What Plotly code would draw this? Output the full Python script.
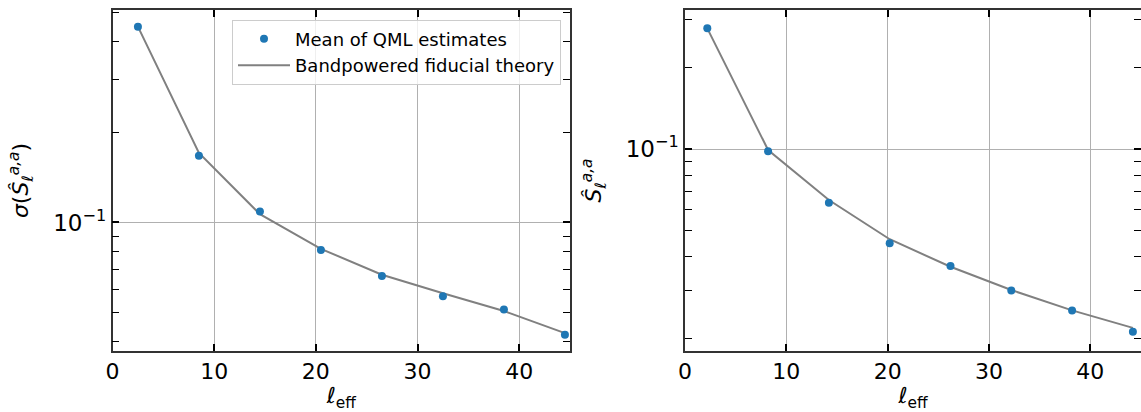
import plotly.graph_objects as go

# ---- data ----
ell_left = [2.5, 8.5, 14.5, 20.5, 26.5, 32.5, 38.5, 44.5]
qml_sigma = [0.449, 0.1668, 0.1088, 0.0810, 0.0664, 0.0568, 0.0513, 0.0423]
theory_sigma = [0.449, 0.1706, 0.1066, 0.0817, 0.0670, 0.0581, 0.0507, 0.0428]

ell_right = [2.2, 8.2, 14.2, 20.2, 26.2, 32.2, 38.2, 44.2]
qml_S = [0.279, 0.0981, 0.0634, 0.0449, 0.0370, 0.0301, 0.0254, 0.0212]
theory_S = [0.279, 0.0992, 0.0649, 0.0465, 0.0368, 0.0302, 0.0254, 0.0219]

x_ticks = [0, 10, 20, 30, 40]
y_major = [0.1]
y_major_text = ["10<sup>−1</sup>"]
minor_left = [0.04, 0.05, 0.06, 0.07, 0.08, 0.09, 0.2, 0.3, 0.4, 0.5]
minor_right = [0.02, 0.03, 0.04, 0.05, 0.06, 0.07, 0.08, 0.09, 0.2, 0.3]

W, H = 1141, 412
BLUE = "#1f77b4"
GRAY = "#808080"
FONT = "DejaVu Sans"

fig = go.Figure()
fig.add_trace(go.Scatter(x=ell_left, y=theory_sigma, mode="lines",
                         line=dict(color=GRAY, width=2),
                         name="Bandpowered fiducial theory", xaxis="x", yaxis="y"))
fig.add_trace(go.Scatter(x=ell_left, y=qml_sigma, mode="markers",
                         marker=dict(color=BLUE, size=8),
                         name="Mean of QML estimates", xaxis="x", yaxis="y"))
fig.add_trace(go.Scatter(x=ell_right, y=theory_S, mode="lines",
                         line=dict(color=GRAY, width=2), showlegend=False,
                         xaxis="x2", yaxis="y2"))
fig.add_trace(go.Scatter(x=ell_right, y=qml_S, mode="markers",
                         marker=dict(color=BLUE, size=8), showlegend=False,
                         xaxis="x2", yaxis="y2"))

def xax(domain, anchor):
    return dict(domain=domain, anchor=anchor, range=[0, 45], automargin=False,
                tickvals=x_ticks, ticks="inside", ticklen=7, tickwidth=1.5,
                tickcolor="black", showline=True, linecolor="#333333", linewidth=1.5,
                mirror="ticks", showgrid=True, gridcolor="#b0b0b0", gridwidth=1,
                zeroline=False, tickfont=dict(family=FONT, size=22, color="black"),
                title=dict(text="<i>ℓ</i><sub>eff</sub>",
                           font=dict(family=FONT, size=22, color="black"), standoff=2))

def yax(anchor, rng, minor_vals, title, standoff):
    return dict(domain=[0, 1], anchor=anchor, type="log", range=rng, automargin=False,
                tickvals=y_major, ticktext=y_major_text, ticks="inside", ticklen=7,
                tickwidth=1.5, tickcolor="black", showline=True, linecolor="#333333",
                linewidth=1.5, mirror="ticks", showgrid=True, gridcolor="#b0b0b0",
                gridwidth=1, zeroline=False,
                tickfont=dict(family=FONT, size=23, color="black"),
                minor=dict(tickvals=minor_vals, ticks="inside", ticklen=7,
                           tickwidth=1.2, tickcolor="black", showgrid=False),
                title=dict(text=title, font=dict(family=FONT, size=22, color="black"),
                           standoff=standoff))

fig.update_layout(
    width=W, height=H,
    margin=dict(l=0, r=0, t=10, b=61),
    paper_bgcolor="white", plot_bgcolor="white",
    xaxis=xax([112.5 / W, 570 / W], "y"),
    yaxis=yax("x", [-1.428, -0.2923], minor_left,
              "<i>σ</i>(<i>Ŝ</i><sub><i>ℓ</i></sub><sup><i>a,a</i></sup>)", 18),
    xaxis2=xax([685 / W, 1.0], "y2"),
    yaxis2=yax("x2", [-1.745, -0.4867], minor_right,
               "<i>Ŝ</i><sub><i>ℓ</i></sub><sup><i>a,a</i></sup>", 18),
    legend=dict(x=561 / W, xanchor="right", y=0.972, yanchor="top",
                bgcolor="rgba(255,255,255,0.8)", bordercolor="#cccccc", borderwidth=1,
                font=dict(family=FONT, size=18, color="black"),
                traceorder="reversed", itemwidth=52, tracegroupgap=0),
    showlegend=True,
)

fig.write_html("out.html")
